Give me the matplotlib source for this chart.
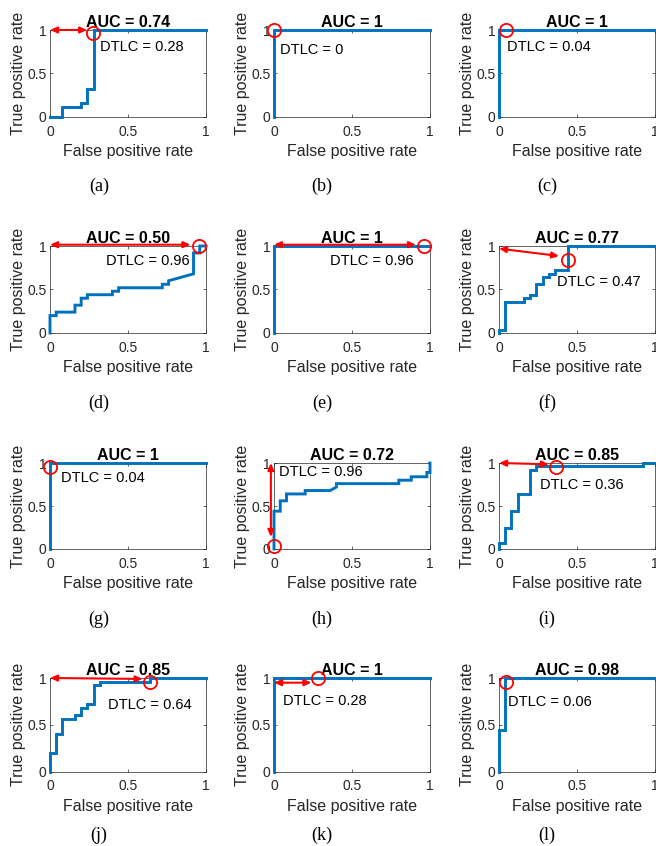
import matplotlib
matplotlib.use("Agg")
import matplotlib.pyplot as plt
from matplotlib.patches import FancyArrowPatch

plt.rcParams['font.family'] = ['Liberation Sans', 'DejaVu Sans']

# ---------------- data ----------------
captions = ['(a)', '(b)', '(c)', '(d)', '(e)', '(f)', '(g)', '(h)', '(i)', '(j)', '(k)', '(l)']
auc_labels = ['0.74', '1', '1', '0.50', '1', '0.77', '1', '0.72', '0.85', '0.85', '1', '0.98']
dtlc_labels = ['0.28', '0', '0.04', '0.96', '0.96', '0.47', '0.04', '0.96', '0.36', '0.64', '0.28', '0.06']

roc_x = [
    [0, 0.08, 0.08, 0.20, 0.20, 0.24, 0.24, 0.28, 0.28, 1],
    [0, 0, 1],
    [0, 0, 1],
    [0, 0, 0.04, 0.04, 0.16, 0.16, 0.20, 0.20, 0.24, 0.24, 0.40, 0.40, 0.44, 0.44,
     0.72, 0.72, 0.76, 0.76, 0.92, 0.92, 0.96, 0.96, 1],
    [0, 0, 1],
    [0, 0, 0.04, 0.04, 0.16, 0.16, 0.20, 0.20, 0.24, 0.24, 0.28, 0.28, 0.32, 0.32,
     0.36, 0.36, 0.44, 0.44, 1],
    [0, 0, 1],
    [0, 0, 0.04, 0.04, 0.08, 0.08, 0.20, 0.20, 0.36, 0.40, 0.40, 0.80, 0.80, 0.88,
     0.88, 0.98, 0.98, 1.0, 1.0],
    [0, 0, 0.04, 0.04, 0.08, 0.08, 0.12, 0.12, 0.20, 0.20, 0.24, 0.24, 0.92, 0.92, 1],
    [0, 0, 0.04, 0.04, 0.08, 0.08, 0.16, 0.16, 0.20, 0.20, 0.24, 0.24, 0.28, 0.28,
     0.32, 0.32, 0.64, 0.64, 1],
    [0, 0, 1],
    [0, 0, 0.04, 0.04, 1],
]
roc_y = [
    [0, 0, 0.12, 0.12, 0.16, 0.16, 0.32, 0.32, 1, 1],
    [0, 1, 1],
    [0, 1, 1],
    [0, 0.20, 0.20, 0.24, 0.24, 0.32, 0.32, 0.40, 0.40, 0.44, 0.44, 0.48, 0.48, 0.52,
     0.52, 0.56, 0.56, 0.60, 0.68, 0.92, 0.92, 1, 1],
    [0, 1, 1],
    [0, 0.04, 0.04, 0.36, 0.36, 0.40, 0.40, 0.44, 0.44, 0.56, 0.56, 0.64, 0.64, 0.68,
     0.68, 0.72, 0.72, 1, 1],
    [0, 1, 1],
    [0, 0.44, 0.44, 0.56, 0.56, 0.64, 0.64, 0.68, 0.68, 0.72, 0.76, 0.76, 0.80, 0.80,
     0.84, 0.84, 0.89, 0.89, 1.0],
    [0, 0.07, 0.07, 0.24, 0.24, 0.44, 0.44, 0.64, 0.64, 0.92, 0.92, 0.96, 0.96, 1, 1],
    [0, 0.20, 0.20, 0.40, 0.40, 0.56, 0.56, 0.60, 0.60, 0.68, 0.68, 0.72, 0.72, 0.92,
     0.92, 0.96, 0.96, 1, 1],
    [0, 1, 1],
    [0, 0.44, 0.44, 1, 1],
]

# operating point marked by the red circle
point_x = [0.275, 0.0, 0.043, 0.955, 0.96, 0.44, 0.0, 0.0, 0.364, 0.64, 0.28, 0.045]
point_y = [0.965, 1.0, 1.0, 1.0, 1.0, 0.84, 0.955, 0.04, 0.957, 0.955, 1.0, 0.96]

# DTLC arrows (None = no arrow drawn)
arrow_start = [(0, 1.0), None, None, (0, 1.015), (0, 1.015), (0, 0.97), None,
               (-0.02, 1.0), (0, 1.0), (0, 1.0), (0.0, 0.95), None]
arrow_end = [(0.238, 1.0), None, None, (0.90, 1.015), (0.91, 1.015), (0.385, 0.885), None,
             (-0.02, 0.14), (0.32, 0.985), (0.594, 0.99), (0.24, 0.95), None]

# DTLC label position (left edge, vertical centre) in axes data units
dtlc_pos = [(0.32, 0.80), (0.04, 0.77), (0.05, 0.81), (0.357, 0.83), (0.36, 0.83),
            (0.37, 0.59), (0.07, 0.82), (0.03, 0.89), (0.26, 0.74), (0.37, 0.71),
            (0.06, 0.75), (0.06, 0.745)]

# ---------------- layout ----------------
W, H = 656, 846
fig = plt.figure(figsize=(W / 100, H / 100), dpi=100)

col_left = [50, 274, 499]
col_width = 156
row_top = [30, 246, 463, 678]
row_height = [87, 87, 86, 93.5]
caption_x = [99, 322, 547]
caption_y = [186, 403, 619, 835]

blue = '#0072BD'
txt = '#262626'

for i in range(12):
    r, c = divmod(i, 3)
    left = col_left[c] / W
    bottom = 1 - (row_top[r] + row_height[r]) / H
    ax = fig.add_axes([left, bottom, col_width / W, row_height[r] / H])
    ax.plot(roc_x[i], roc_y[i], color=blue, lw=2.1, solid_joinstyle='miter', clip_on=False, zorder=3)
    ax.plot([point_x[i]], [point_y[i]], marker='o', ms=9.5, mfc='none', mec='red',
            mew=1.3, clip_on=False, zorder=5)
    if arrow_start[i] is not None:
        arr = FancyArrowPatch(arrow_start[i], arrow_end[i],
                              arrowstyle='<|-|>,head_length=4,head_width=1.8',
                              mutation_scale=1, color='red', lw=1.5,
                              shrinkA=0, shrinkB=0, clip_on=False, zorder=6)
        ax.add_patch(arr)
    ax.text(dtlc_pos[i][0], dtlc_pos[i][1], 'DTLC = ' + dtlc_labels[i],
            fontsize=10.5, color='black', ha='left', va='center', zorder=7)
    ax.set_xlim(0, 1)
    ax.set_ylim(0, 1)
    ax.set_xticks([0, 0.5, 1])
    ax.set_yticks([0, 0.5, 1])
    ax.set_xticklabels(['0', '0.5', '1'])
    ax.set_yticklabels(['0', '0.5', '1'])
    ax.tick_params(direction='in', length=2.5, width=0.5, colors=txt, labelsize=10,
                   top=True, right=True)
    ax.tick_params(axis='x', pad=5.5)
    ax.tick_params(axis='y', pad=2.5)
    for s in ax.spines.values():
        s.set_color(txt)
        s.set_linewidth(0.5)
    ax.set_xlabel('False positive rate', fontsize=11.5, color=txt, labelpad=4)
    ax.set_ylabel('True positive rate', fontsize=11.5, color=txt, labelpad=1)
    ax.set_title('AUC = ' + auc_labels[i], fontsize=11.5, fontweight='bold',
                 color='black', pad=2.5)
    fig.text(caption_x[c] / W, 1 - caption_y[r] / H, captions[i],
             family=['Liberation Serif', 'DejaVu Serif'], fontsize=13,
             ha='center', va='center', color='black')

fig.savefig('out.png', dpi=100, facecolor='white')
